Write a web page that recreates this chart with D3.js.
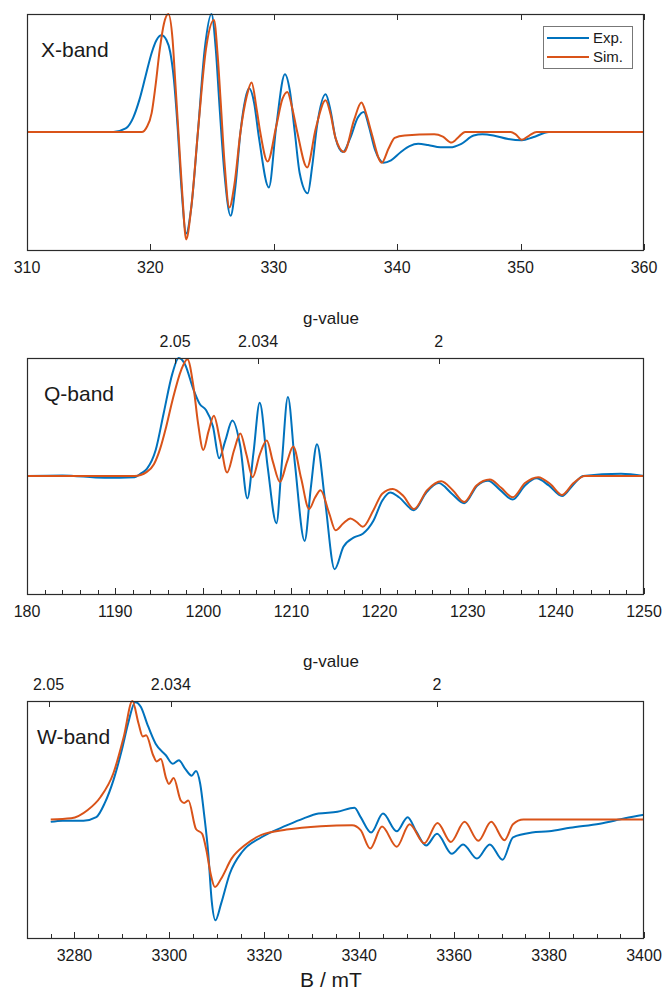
<!DOCTYPE html>
<html>
<head>
<meta charset="utf-8">
<script src="https://cdn.jsdelivr.net/npm/d3@7"></script>
<style>
  body { margin: 0; background: #fff; }
  svg { display: block; font-family: "Liberation Sans", Arial, Helvetica, sans-serif; }
  .frame { fill: none; stroke: #2b2b2b; stroke-width: 1.2; }
  .tick { stroke: #2b2b2b; stroke-width: 1; }
  .ticklabel { font-size: 16px; fill: #1a1a1a; text-anchor: middle; }
  .bandlabel { font-size: 21px; fill: #1a1a1a; }
  .trace { fill: none; stroke-width: 2; stroke-linejoin: round; }
</style>
</head>
<body>
<div id="chart"></div>
<script>
// EPR spectra at three frequencies, experiment vs simulation

// X-band, field (mT) vs normalised signal
const xExp = [[310,0],[317,0],[318.0,0.03],[318.6,0.12],[319.1,0.27],[319.6,0.47],[320.1,0.67],[320.5,0.78],
  [320.9,0.82],[321.3,0.78],[321.6,0.68],[321.9,0.45],[322.2,0.05],[322.5,-0.45],[322.9,-0.86],[323.3,-0.65],
  [323.85,0],[324.4,0.70],[324.95,1.0],[325.3,0.70],[325.6,0.22],[326.0,-0.35],[326.5,-0.71],[326.9,-0.45],
  [327.3,0],[328.0,0.37],[328.4,0.25],[328.8,-0.05],[329.6,-0.47],[330.2,0.05],[330.9,0.49],[331.3,0.35],
  [331.7,0],[332.1,-0.35],[332.75,-0.52],[333.1,-0.30],[333.5,0.05],[334.2,0.32],[334.6,0.18],[335.0,-0.05],
  [335.6,-0.17],[336.2,-0.05],[336.8,0.12],[337.3,0.17],[337.7,0.05],[338.2,-0.15],[338.9,-0.26],[339.5,-0.24],
  [340.3,-0.17],[341.0,-0.12],[341.7,-0.10],[342.5,-0.11],[343.5,-0.13],[344.3,-0.13],[345.2,-0.10],
  [346.2,-0.03],[346.9,-0.02],[347.8,-0.03],[349.0,-0.06],[350.1,-0.07],[351.0,-0.045],[352.3,0],[360,0]];
const xSim = [[310,0],[319.3,0],[319.7,0.04],[320.1,0.16],[320.4,0.38],[320.76,0.70],[321.1,0.92],[321.45,1.0],
  [321.8,0.78],[322.0,0.45],[322.3,-0.05],[322.6,-0.55],[322.9,-0.91],[323.3,-0.65],[323.85,0],[324.5,0.70],
  [325.15,0.95],[325.45,0.65],[325.7,0.25],[326.0,-0.25],[326.4,-0.64],[326.8,-0.45],[327.3,0],[327.8,0.30],
  [328.2,0.42],[328.6,0.20],[328.9,0],[329.5,-0.25],[330.2,0.05],[330.7,0.28],[331.1,0.34],[331.5,0.2],
  [331.9,0],[332.7,-0.30],[333.4,0.03],[334.2,0.27],[334.6,0.15],[335.0,-0.05],[335.7,-0.17],[336.5,0.10],
  [337.1,0.25],[337.5,0.15],[337.9,0],[338.75,-0.26],[339.3,-0.14],[339.8,-0.05],[340.6,-0.03],[343.0,-0.02],
  [343.7,-0.04],[344.4,-0.09],[345.0,-0.04],[345.5,0],[349.2,0],[349.6,-0.02],[350.1,-0.065],[350.7,-0.03],
  [351.3,0],[360,0]];

// Q-band
const qExp = [[1180,0],[1184,0.005],[1188.8,-0.015],[1192.2,-0.01],[1192.9,0.02],[1193.6,0.06],[1194.6,0.22],
  [1195.5,0.53],[1196.5,0.87],[1197.2,1.0],[1197.9,0.95],[1198.9,0.73],[1199.6,0.61],[1200.3,0.56],
  [1201.1,0.42],[1201.8,0.15],[1202.5,0.30],[1203.3,0.47],[1204.2,0.25],[1205.0,-0.19],[1205.7,0.20],
  [1206.4,0.62],[1207.3,0.08],[1208.3,-0.40],[1208.9,0.10],[1209.6,0.67],[1210.4,0.10],[1211.5,-0.55],
  [1212.2,-0.10],[1212.9,0.27],[1213.8,-0.20],[1214.9,-0.79],[1215.9,-0.60],[1217.1,-0.52],[1218.1,-0.49],
  [1219.3,-0.38],[1220.3,-0.21],[1221.2,-0.14],[1222.2,-0.18],[1223.9,-0.29],[1225.3,-0.14],[1226.7,-0.06],
  [1228.2,-0.15],[1229.6,-0.23],[1231.1,-0.08],[1232.3,-0.04],[1233.7,-0.12],[1235.1,-0.20],[1236.5,-0.08],
  [1237.8,-0.02],[1239.2,-0.08],[1240.7,-0.17],[1241.9,-0.08],[1243.1,0],[1247.4,0.02],[1250,0]];
const qSim = [[1180,0],[1192.2,0],[1193.6,0.035],[1194.4,0.10],[1195.1,0.23],[1195.8,0.42],[1196.5,0.64],
  [1197.5,0.90],[1198.2,0.99],[1198.9,0.75],[1199.4,0.45],[1200.0,0.22],[1200.6,0.38],[1201.2,0.51],
  [1201.9,0.30],[1202.7,0.03],[1203.5,0.22],[1204.2,0.36],[1204.9,0.18],[1205.6,-0.01],[1206.4,0.18],
  [1207.2,0.30],[1207.9,0.12],[1208.7,-0.05],[1209.5,0.12],[1210.2,0.25],[1211.1,-0.02],[1212.0,-0.28],
  [1212.7,-0.18],[1213.3,-0.12],[1214.3,-0.32],[1215.0,-0.46],[1215.9,-0.40],[1216.7,-0.36],[1217.4,-0.39],
  [1218.1,-0.43],[1219.3,-0.29],[1220.3,-0.15],[1221.5,-0.11],[1222.7,-0.17],[1223.9,-0.28],[1225.4,-0.12],
  [1227.0,-0.045],[1228.3,-0.12],[1229.6,-0.22],[1231.0,-0.08],[1232.5,-0.03],[1233.8,-0.10],[1235.1,-0.18],
  [1236.5,-0.06],[1238.0,-0.01],[1239.4,-0.07],[1240.7,-0.16],[1242.0,-0.06],[1243.3,0],[1250,0]];

// W-band
const wExp = [[3275.0,-0.02],[3277.5,-0.01],[3281.9,-0.01],[3284.6,0.02],[3286.4,0.14],[3288.2,0.33],
  [3290.0,0.59],[3291.3,0.81],[3292.8,0.99],[3294.0,0.95],[3295.3,0.81],[3297.1,0.64],[3299.3,0.54],
  [3300.7,0.47],[3302.0,0.50],[3303.3,0.43],[3304.7,0.37],[3305.6,0.41],[3306.5,0.30],[3307.3,0.05],
  [3308.2,-0.29],[3308.9,-0.68],[3309.7,-0.85],[3310.9,-0.71],[3312.7,-0.46],[3315.4,-0.27],[3319.4,-0.15],
  [3324.7,-0.05],[3328.3,0.01],[3331.4,0.05],[3335.4,0.065],[3339.0,0.10],[3340.3,0.02],[3342.5,-0.11],
  [3345.0,0.05],[3347.9,-0.10],[3350.2,0.02],[3352.0,-0.10],[3354.1,-0.22],[3356.4,-0.12],[3359.5,-0.29],
  [3361.9,-0.21],[3364.8,-0.33],[3367.5,-0.21],[3370.2,-0.34],[3372.4,-0.15],[3376.4,-0.11],[3380.0,-0.10],
  [3384.4,-0.07],[3390.7,-0.035],[3396.0,0.01],[3400,0.04]];
const wSim = [[3275,0],[3279.3,0.01],[3282.8,0.08],[3285.5,0.19],[3288.2,0.39],[3290.4,0.70],[3292.2,1.0],
  [3293.5,0.81],[3294.4,0.70],[3295.1,0.71],[3296.6,0.54],[3297.3,0.49],[3298.2,0.51],[3299.3,0.35],
  [3299.9,0.30],[3300.9,0.35],[3302.4,0.16],[3303.1,0.14],[3304.0,0.16],[3305.6,-0.08],[3306.9,-0.12],
  [3307.8,-0.26],[3308.7,-0.46],[3309.6,-0.57],[3310.9,-0.50],[3313.1,-0.33],[3315.8,-0.22],[3319.4,-0.13],
  [3324.7,-0.085],[3331.9,-0.056],[3338.5,-0.048],[3340.3,-0.09],[3342.3,-0.245],[3344.8,-0.06],
  [3347.9,-0.23],[3350.6,-0.04],[3353.7,-0.20],[3356.5,-0.03],[3359.3,-0.19],[3362.2,-0.02],[3365.1,-0.18],
  [3367.8,-0.02],[3370.6,-0.175],[3372.4,-0.04],[3374.6,0],[3400,0]];

// axes
const xTicks = [310, 320, 330, 340, 350, 360];
const xTickLabels = ["310", "320", "330", "340", "350", "360"];
const qTicks = [1180, 1190, 1200, 1210, 1220, 1230, 1240, 1250];
const qTickLabels = ["180", "1190", "1200", "1210", "1220", "1230", "1240", "1250"];
const wTicks = [3280, 3300, 3320, 3340, 3360, 3380, 3400];
const wTickLabels = ["3280", "3300", "3320", "3340", "3360", "3380", "3400"];
const gTicks = [2.05, 2.034, 2];
const gTickLabels = ["2.05", "2.034", "2"];
const mwFreqGHz = {Q: 34.339, W: 93.954}; // microwave frequency for g-axis
const seriesNames = ["Exp.", "Sim."];
const seriesColors = ["#0072BD", "#D95319"];

const W = 662, H = 991;
const left = 27, right = 644;

const svg = d3.select("#chart").append("svg")
    .attr("width", W).attr("height", H);

function drawPanel(cfg, idx) {
    const x = d3.scaleLinear().domain(cfg.domain).range([left, right]);
    const y = d3.scaleLinear().domain([-1, 1]).range([cfg.bottom, cfg.top]);
    const g = svg.append("g").attr("class", "panel-" + idx);

    const clipId = "clip" + idx;
    g.append("clipPath").attr("id", clipId)
        .append("rect")
        .attr("x", left).attr("y", cfg.top - 1)
        .attr("width", right - left).attr("height", cfg.bottom - cfg.top + 2);

    const line = d3.line()
        .x(d => x(d[0]))
        .y(d => y(d[1]))
        .curve(d3.curveMonotoneX);

    const plot = g.append("g").attr("clip-path", "url(#" + clipId + ")");
    [cfg.exp, cfg.sim].forEach((s, i) => {
        plot.append("path")
            .datum(s)
            .attr("class", "trace")
            .attr("stroke", seriesColors[i])
            .attr("d", line);
    });

    g.append("rect").attr("class", "frame")
        .attr("x", left + 0.5).attr("y", cfg.top + 0.5)
        .attr("width", right - left - 1).attr("height", cfg.bottom - cfg.top);

    // bottom field ticks (inward)
    if (cfg.minorStep) {
        const minors = d3.range(cfg.domain[0], cfg.domain[1] + 0.001, cfg.minorStep)
            .filter(v => cfg.ticks.indexOf(v) < 0);
        g.selectAll(".minor").data(minors).enter().append("line")
            .attr("class", "tick")
            .attr("x1", d => Math.round(x(d)) + 0.5).attr("x2", d => Math.round(x(d)) + 0.5)
            .attr("y1", cfg.bottom).attr("y2", cfg.bottom - 4);
    }
    g.selectAll(".major").data(cfg.ticks).enter().append("line")
        .attr("class", "tick")
        .attr("x1", d => Math.round(x(d)) + 0.5).attr("x2", d => Math.round(x(d)) + 0.5)
        .attr("y1", cfg.bottom).attr("y2", cfg.bottom - 6);
    if (cfg.mirror) {
        g.selectAll(".majortop").data(cfg.ticks).enter().append("line")
            .attr("class", "tick")
            .attr("x1", d => Math.round(x(d)) + 0.5).attr("x2", d => Math.round(x(d)) + 0.5)
            .attr("y1", cfg.top).attr("y2", cfg.top + 6);
    }
    g.selectAll(".ticklabel").data(cfg.ticks).enter().append("text")
        .attr("class", "ticklabel")
        .attr("x", d => x(d))
        .attr("y", cfg.bottom + 23)
        .text((d, i) => cfg.tickLabels[i]);

    // top g-value axis
    if (cfg.freq) {
        const gField = gv => 71.4477 * cfg.freq / gv; // mT
        g.selectAll(".gtick").data(gTicks).enter().append("line")
            .attr("class", "tick")
            .attr("x1", d => Math.round(x(gField(d))) + 0.5).attr("x2", d => Math.round(x(gField(d))) + 0.5)
            .attr("y1", cfg.top).attr("y2", cfg.top + 6);
        g.selectAll(".glabel").data(gTicks).enter().append("text")
            .attr("class", "ticklabel")
            .attr("x", d => x(gField(d)))
            .attr("y", cfg.top - 11)
            .text((d, i) => gTickLabels[i]);
        g.append("text")
            .attr("x", 331).attr("y", cfg.top - 34)
            .attr("text-anchor", "middle")
            .style("font-size", "17px").style("fill", "#1a1a1a")
            .text("g-value");
    }

    g.append("text").attr("class", "bandlabel")
        .attr("x", cfg.labelX).attr("y", cfg.labelY)
        .text(cfg.name);

    if (cfg.legend) {
        const lg = g.append("g");
        lg.append("rect")
            .attr("x", 543.5).attr("y", 26.5).attr("width", 89).attr("height", 42)
            .attr("fill", "#fff").attr("stroke", "#777").attr("stroke-width", 1);
        seriesNames.forEach((n, i) => {
            const ly = 38 + i * 19;
            lg.append("line")
                .attr("x1", 547).attr("x2", 589).attr("y1", ly).attr("y2", ly)
                .attr("stroke", seriesColors[i]).attr("stroke-width", 2);
            lg.append("text")
                .attr("x", 593).attr("y", ly + 5)
                .style("font-size", "15px").style("fill", "#1a1a1a")
                .text(n);
        });
    }
}

const panels = [
    {name: "X-band", top: 14, bottom: 250, domain: [310, 360], ticks: xTicks, tickLabels: xTickLabels,
     minorStep: 0, mirror: true, exp: xExp, sim: xSim, freq: 0, legend: true, labelX: 41, labelY: 57},
    {name: "Q-band", top: 358, bottom: 594, domain: [1180, 1250], ticks: qTicks, tickLabels: qTickLabels,
     minorStep: 2, mirror: false, exp: qExp, sim: qSim, freq: mwFreqGHz.Q, legend: false, labelX: 44, labelY: 401},
    {name: "W-band", top: 701, bottom: 938, domain: [3270, 3400], ticks: wTicks, tickLabels: wTickLabels,
     minorStep: 5, mirror: false, exp: wExp, sim: wSim, freq: mwFreqGHz.W, legend: false, labelX: 37, labelY: 744}
];
panels.forEach(drawPanel);

svg.append("text")
    .attr("x", 331).attr("y", 987)
    .attr("text-anchor", "middle")
    .style("font-size", "21px").style("fill", "#1a1a1a")
    .text("B / mT");
</script>
</body>
</html>
